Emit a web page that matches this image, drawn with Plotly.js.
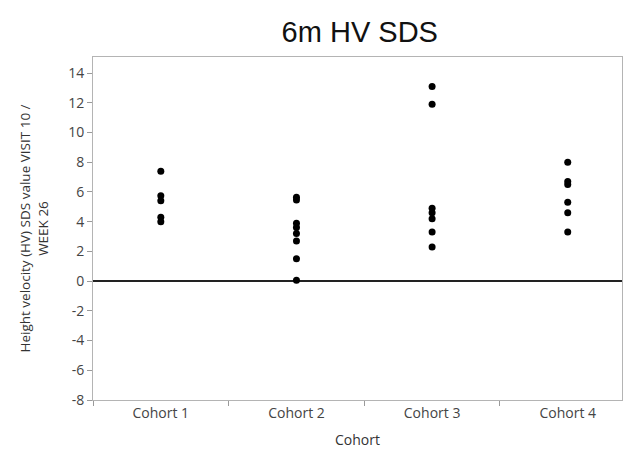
<!DOCTYPE html>
<html>
<head>
<meta charset="utf-8">
<script src="https://cdn.plot.ly/plotly-3.0.1.min.js"></script>
<style>
  html, body { margin: 0; padding: 0; background: #ffffff; }
  #chart { width: 629px; height: 456px; }
</style>
</head>
<body>
<div id="chart"></div>
<script>
// Cohort categories and individual 6-month HV SDS values
const cohorts = ["Cohort 1", "Cohort 2", "Cohort 3", "Cohort 4"];
const cohort1 = [7.4, 5.75, 5.4, 4.3, 4.0];
const cohort2 = [5.65, 5.45, 3.9, 3.6, 3.2, 2.7, 1.5, 0.05];
const cohort3 = [13.1, 11.9, 4.9, 4.6, 4.2, 3.3, 2.3];
const cohort4 = [8.0, 6.7, 6.5, 5.3, 4.6, 3.3];
const yTicks = [-8, -6, -4, -2, 0, 2, 4, 6, 8, 10, 12, 14];

const groups = [cohort1, cohort2, cohort3, cohort4];
const xs = [], ys = [];
groups.forEach((vals, i) => {
  vals.forEach(v => { xs.push(cohorts[i]); ys.push(v); });
});

const uiFont = "Open Sans, DejaVu Sans, sans-serif";

const trace = {
  type: "scatter",
  mode: "markers",
  x: xs,
  y: ys,
  marker: { color: "#000000", size: 7 },
  hoverinfo: "x+y",
  showlegend: false
};

const layout = {
  width: 629,
  height: 456,
  margin: { l: 93, r: 7, t: 57, b: 56 },
  paper_bgcolor: "#ffffff",
  plot_bgcolor: "#ffffff",
  title: {
    text: "6m HV SDS",
    font: { family: "Liberation Sans, Arial, sans-serif", size: 29, color: "#111111" },
    x: 0.572, xanchor: "center",
    y: 0.93, yanchor: "middle"
  },
  xaxis: {
    type: "category",
    categoryorder: "array",
    categoryarray: cohorts,
    range: [-0.5, 3.4],
    tickson: "boundaries",
    ticks: "outside",
    ticklen: 5,
    tickcolor: "#9a9a9a",
    tickfont: { family: uiFont, size: 14, color: "#444444" },
    showgrid: false,
    showline: true,
    linecolor: "#b4b4b4",
    linewidth: 1,
    mirror: true,
    zeroline: false,
    title: {
      text: "Cohort",
      font: { family: uiFont, size: 14, color: "#333333" },
      standoff: 14
    }
  },
  yaxis: {
    range: [-8, 15.08],
    tickvals: yTicks,
    ticktext: yTicks.map(String),
    ticks: "outside",
    ticklen: 5,
    tickcolor: "#9a9a9a",
    tickfont: { family: uiFont, size: 14, color: "#444444" },
    showgrid: false,
    showline: true,
    linecolor: "#b4b4b4",
    linewidth: 1,
    mirror: true,
    zeroline: true,
    zerolinecolor: "#222222",
    zerolinewidth: 1.5,
    title: {
      text: "Height velocity (HV) SDS value VISIT 10 /<br>WEEK 26",
      font: { family: uiFont, size: 13.5, color: "#333333" },
      standoff: 16
    }
  }
};

Plotly.newPlot("chart", [trace], layout, { displayModeBar: false, staticPlot: true });
</script>
</body>
</html>
